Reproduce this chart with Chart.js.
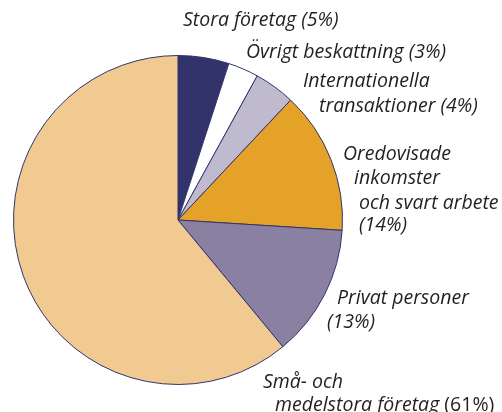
<!DOCTYPE html>
<html lang="sv">
<head>
    <meta charset="UTF-8">
    <title>Skattefelet</title>
    <script src="https://cdn.jsdelivr.net/npm/chart.js"></script>
    <style>
        body { margin: 0; background: #fff; }
        #wrap { width: 502px; height: 412px; }
    </style>
</head>
<body>
<div id="wrap"><canvas id="pieChart" width="502" height="412"></canvas></div>
<script>
    const categories = ['Stora företag', 'Övrigt beskattning', 'Internationella transaktioner',
        'Oredovisade inkomster och svart arbete', 'Privat personer', 'Små- och medelstora företag'];
    const shares = [5, 3, 4, 14, 13, 61];
    const colors = ['#33336b', '#ffffff', '#c0bacf', '#e5a228', '#8a80a2', '#f0ca90'];

    // label lines per slice: text, left x, baseline y, italic?
    const labelLines = [
        [['Stora företag (5%)', 183, 26, true]],
        [['Övrigt beskattning (3%)', 246, 58, true]],
        [['Internationella', 303, 87, true], ['transaktioner (4%)', 319, 112, true]],
        [['Oredovisade', 343, 160, true], ['inkomster', 354, 184, true], ['och svart arbete', 359, 209, true], ['(14%)', 359, 231, true]],
        [['Privat personer', 337, 304, true], ['(13%)', 327, 328, true]],
        [['Små- och', 263, 388, true], ['medelstora företag ', 275, 411, true], ['(61%)', null, 411, false]]
    ];

    const labelPlugin = {
        id: 'sliceLabels',
        afterDraw(chart) {
            const ctx = chart.ctx;
            ctx.save();
            ctx.fillStyle = '#231f20';
            ctx.textAlign = 'left';
            ctx.textBaseline = 'alphabetic';
            labelLines.forEach(lines => {
                let lastEnd = 0;
                lines.forEach(([text, x, y, italic]) => {
                    ctx.font = (italic ? 'italic ' : '') + '19.5px "Open Sans"';
                    const left = x === null ? lastEnd : x;
                    ctx.fillText(text, left, y);
                    lastEnd = left + ctx.measureText(text).width;
                });
            });
            ctx.restore();
        }
    };

    new Chart(document.getElementById('pieChart'), {
        type: 'pie',
        data: {
            labels: categories,
            datasets: [{
                data: shares,
                backgroundColor: colors,
                borderColor: '#33336b',
                borderWidth: 1
            }]
        },
        options: {
            responsive: false,
            animation: false,
            layout: { padding: { left: 13, top: 55, right: 159, bottom: 27 } },
            plugins: {
                legend: { display: false },
                tooltip: { enabled: false }
            }
        },
        plugins: [labelPlugin]
    });
</script>
</body>
</html>
